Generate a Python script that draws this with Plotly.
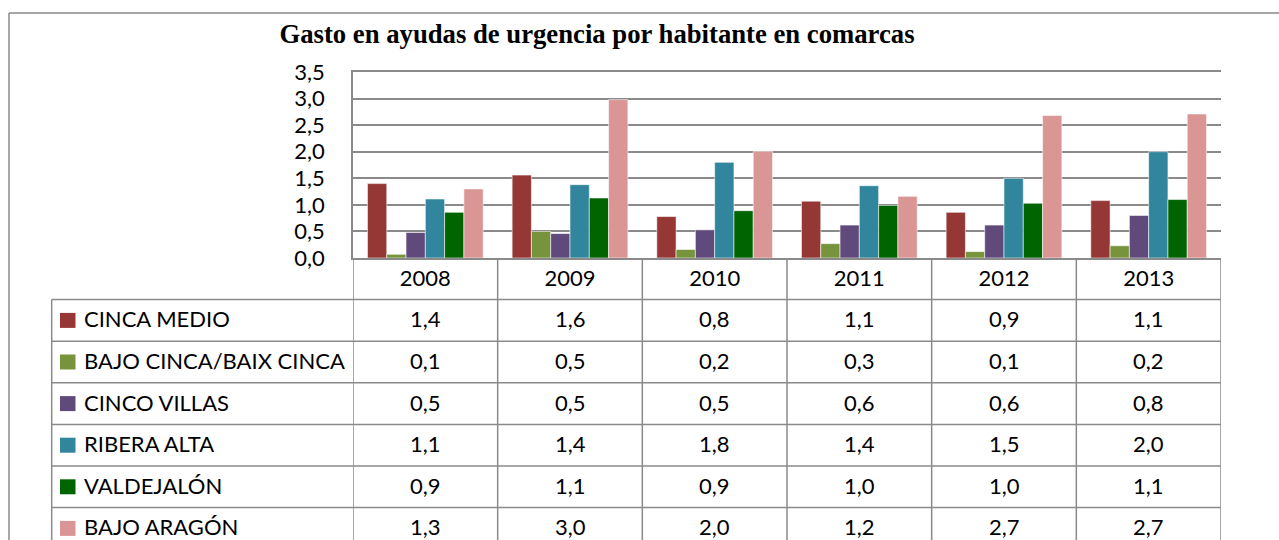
import plotly.graph_objects as go

# ---- data -------------------------------------------------------------
years = ["2008", "2009", "2010", "2011", "2012", "2013"]

comarcas = [
    "CINCA MEDIO",
    "BAJO CINCA/BAIX CINCA",
    "CINCO VILLAS",
    "RIBERA ALTA",
    "VALDEJALÓN",
    "BAJO ARAGÓN",
]

cinca_medio = [1.40, 1.56, 0.78, 1.07, 0.86, 1.08]
bajo_cinca = [0.07, 0.50, 0.16, 0.27, 0.12, 0.23]
cinco_villas = [0.48, 0.46, 0.53, 0.62, 0.62, 0.80]
ribera_alta = [1.11, 1.38, 1.80, 1.36, 1.50, 2.00]
valdejalon = [0.86, 1.13, 0.89, 0.99, 1.03, 1.10]
bajo_aragon = [1.30, 2.98, 2.01, 1.16, 2.68, 2.71]

series_values = [cinca_medio, bajo_cinca, cinco_villas, ribera_alta, valdejalon, bajo_aragon]

colors = ["#953735", "#77933C", "#604A7B", "#31859C", "#006400", "#D99694"]

y_ticks = [0.0, 0.5, 1.0, 1.5, 2.0, 2.5, 3.0, 3.5]

title_text = "Gasto en ayudas de urgencia por habitante en comarcas"

# ---- layout geometry (pixels) -----------------------------------------
W, H = 1279, 540
PLOT_L, PLOT_R = 353, 1221
PLOT_T, PLOT_B = 72, 258
ROW_H = 41.6
TABLE_L = 51.7
TEXT_SHIFT = 1.5          # optical nudge so row text sits centred in its cell
LINE_COLOR = "#8a8a8a"
FONT = "Lato"
TEXT_SIZE = 22


def px_x(px):
    return (px - PLOT_L) / (PLOT_R - PLOT_L)


def px_y(py):
    return (PLOT_B - py) / (PLOT_B - PLOT_T)


def fmt(v):
    return f"{v:.1f}".replace(".", ",")


fig = go.Figure()

for name, color, vals in zip(comarcas, colors, series_values):
    fig.add_trace(go.Bar(
        x=years, y=vals, name=name,
        marker=dict(color=color, line=dict(color="rgba(255,255,255,0.55)", width=1)),
    ))

shapes = []
annotations = []

# outer chart frame (left and top edges)
shapes.append(dict(type="line", xref="paper", yref="paper",
                   x0=px_x(9), x1=px_x(9), y0=px_y(13), y1=px_y(H + 20),
                   line=dict(color=LINE_COLOR, width=1.5)))
shapes.append(dict(type="line", xref="paper", yref="paper",
                   x0=px_x(9), x1=px_x(W + 5), y0=px_y(13), y1=px_y(13),
                   line=dict(color=LINE_COLOR, width=1.5)))

# data table: horizontal rules
n_rows = len(comarcas)
for k in range(1, n_rows + 2):
    yy = PLOT_B + ROW_H * k
    shapes.append(dict(type="line", xref="paper", yref="paper",
                       x0=px_x(TABLE_L), x1=1, y0=px_y(yy), y1=px_y(yy),
                       line=dict(color=LINE_COLOR, width=1.5)))

# data table: vertical rules (left edge, then one per category boundary)
shapes.append(dict(type="line", xref="paper", yref="paper",
                   x0=px_x(TABLE_L), x1=px_x(TABLE_L),
                   y0=px_y(PLOT_B + ROW_H), y1=px_y(H + 20),
                   line=dict(color=LINE_COLOR, width=1.5)))
for i in range(len(years) + 1):
    shapes.append(dict(type="line", xref="x", yref="paper",
                       x0=i - 0.5, x1=i - 0.5, y0=0, y1=px_y(H + 20),
                       line=dict(color=LINE_COLOR, width=1.5)))

# data table: legend keys, row labels and values
for r, (name, color, vals) in enumerate(zip(comarcas, colors, series_values)):
    yc = PLOT_B + ROW_H * (r + 1.5)
    shapes.append(dict(type="rect", xref="paper", yref="paper",
                       x0=px_x(60), x1=px_x(75.5),
                       y0=px_y(yc - 7.5), y1=px_y(yc + 7.5),
                       fillcolor=color, line=dict(width=0)))
    annotations.append(dict(xref="paper", yref="paper", x=px_x(82), y=px_y(yc - TEXT_SHIFT),
                            xanchor="left", yanchor="middle", showarrow=False,
                            text=name, font=dict(family=FONT, size=TEXT_SIZE, color="black")))
    for i, v in enumerate(vals):
        annotations.append(dict(xref="x", yref="paper", x=i, y=px_y(yc - TEXT_SHIFT),
                                xanchor="center", yanchor="middle", showarrow=False,
                                text=fmt(v), font=dict(family=FONT, size=TEXT_SIZE, color="black")))

fig.update_layout(
    width=W, height=H,
    margin=dict(l=PLOT_L, r=W - PLOT_R, t=PLOT_T, b=H - PLOT_B, pad=0),
    paper_bgcolor="white", plot_bgcolor="white",
    barmode="group", bargap=0.2, bargroupgap=0,
    showlegend=False,
    separators=",.",
    title=dict(text=f"<b>{title_text}</b>", xref="container", yref="container",
               x=597 / W, y=1 - 34 / H, xanchor="center", yanchor="middle",
               font=dict(family="Liberation Serif", size=26.7, color="black")),
    xaxis=dict(type="category", range=[-0.5, len(years) - 0.5], autorange=False,
               showline=True, mirror=True,
               linecolor=LINE_COLOR, linewidth=1.5, showgrid=False, ticks="",
               tickfont=dict(family=FONT, size=TEXT_SIZE, color="black"),
               ticklabelstandoff=0),
    yaxis=dict(range=[0, 3.5], autorange=False, tickvals=y_ticks, tickformat=".1f",
               showgrid=True, gridcolor=LINE_COLOR, gridwidth=1.5,
               showline=True, linecolor=LINE_COLOR, linewidth=1.5,
               zeroline=False, ticks="", ticklabelstandoff=22,
               tickfont=dict(family=FONT, size=TEXT_SIZE, color="black")),
    shapes=shapes,
    annotations=annotations,
)

fig.write_html("out.html")
